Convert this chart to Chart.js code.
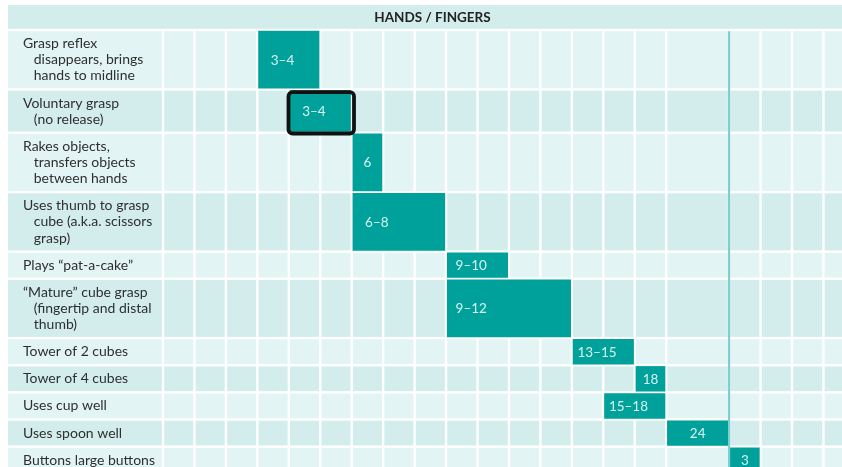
<!DOCTYPE html>
<html>
<head>
<meta charset="utf-8">
<script src="https://cdn.jsdelivr.net/npm/chart.js@4.4.1/dist/chart.umd.min.js"></script>
<style>
  html, body { margin: 0; padding: 0; background: #ffffff; }
  canvas { display: block; }
</style>
</head>
<body>
<canvas id="c" width="842" height="467"></canvas>
<script>
// ---------------- data ----------------
const sectionTitle = 'HANDS / FINGERS';

const NB = '\u00a0\u00a0\u00a0';
const milestones = [
  ['Grasp reflex', NB + 'disappears, brings', NB + 'hands to midline'],
  ['Voluntary grasp', NB + '(no release)'],
  ['Rakes objects,', NB + 'transfers objects', NB + 'between hands'],
  ['Uses thumb to grasp', NB + 'cube (a.k.a. scissors', NB + 'grasp)'],
  ['Plays \u201cpat-a-cake\u201d'],
  ['\u201cMature\u201d cube grasp', NB + '(fingertip and distal', NB + 'thumb)'],
  ['Tower of 2 cubes'],
  ['Tower of 4 cubes'],
  ['Uses cup well'],
  ['Uses spoon well'],
  ['Buttons large buttons']
];

// age text shown inside each bar
const ageLabels = ['3\u20134', '3\u20134', '6', '6\u20138', '9\u201310', '9\u201312', '13\u201315', '18', '15\u201318', '24', '3'];

// timeline columns: months 0..12 (one column each), 13–14, 15, 16–18, 19–24 (double), then years 3, 4, 5, 6
const columnEdges = [0, 1, 2, 3, 4, 5, 6, 7, 8, 9, 10, 11, 12, 13, 14, 15, 16, 18, 19, 20, 21, 22];
// start / end column of each bar (as drawn)
const startCol = [3, 4, 6, 6, 9, 9, 13, 15, 14, 16, 18];
const endCol   = [5, 6, 7, 9, 11, 13, 15, 16, 16, 18, 19];

const twoYearMark = 18;     // column edge where years begin
const highlightedRow = 1;   // "Voluntary grasp"

// ---------------- layout helpers ----------------
const ROW_EXTRA = 0.68;     // row padding, in text-line units
const rowTop = [], rowBottom = [], rowCenter = [];
{
  let acc = 0;
  milestones.forEach(lines => {
    const h = lines.length + ROW_EXTRA;
    rowTop.push(acc);
    rowBottom.push(acc + h);
    rowCenter.push(acc + h / 2);
    acc += h;
  });
}

const COLORS = {
  light: '#e2f4f4',
  dark: '#d3eded',
  header: '#d3eded',
  bar: '#00a19b',
  barText: '#d8f3f0',
  mark: '#7dcfd0',
  label: '#2f2f2f',
  title: '#222222',
  highlight: '#111111'
};
const GAP = 2.4;

const gridPlugin = {
  id: 'gridPlugin',
  beforeDraw(chart) {
    const { ctx, scales: { x, y } } = chart;
    const labelLeft = 8;
    const tb = chart.titleBlock;
    ctx.save();
    ctx.fillStyle = COLORS.header;
    ctx.fillRect(labelLeft, tb.top + 1, chart.width - labelLeft, tb.bottom - tb.top - 1 - GAP / 2);
    milestones.forEach((_, i) => {
      const top = y.getPixelForValue(rowTop[i]) + GAP / 2;
      const bot = y.getPixelForValue(rowBottom[i]) - GAP / 2;
      ctx.fillStyle = i % 2 ? COLORS.dark : COLORS.light;
      const x0 = x.getPixelForValue(columnEdges[0]);
      ctx.fillRect(labelLeft, top, x0 - GAP / 2 - labelLeft, bot - top);
      for (let k = 0; k < columnEdges.length - 1; k++) {
        const l = x.getPixelForValue(columnEdges[k]) + GAP / 2;
        const r = x.getPixelForValue(columnEdges[k + 1]) - GAP / 2;
        ctx.fillRect(l, top, r - l, bot - top);
      }
    });
    ctx.restore();
  },
  afterDatasetsUpdate(chart) {
    const y = chart.scales.y;
    const meta = chart.getDatasetMeta(0);
    meta.data.forEach((el, i) => {
      const top = y.getPixelForValue(rowTop[i]) + GAP / 2;
      const bot = y.getPixelForValue(rowBottom[i]) - GAP / 2;
      el.y = (top + bot) / 2;
      el.height = bot - top;
      el.base = el.base + GAP / 2;
      el.x = el.x - GAP / 2;
    });
  },
  afterDatasetsDraw(chart) {
    const { ctx, chartArea: a, scales: { x, y } } = chart;
    ctx.save();
    // two-year marker line
    const mx = x.getPixelForValue(twoYearMark);
    ctx.strokeStyle = COLORS.mark;
    ctx.lineWidth = 2.2;
    ctx.beginPath();
    ctx.moveTo(mx, a.top + GAP / 2);
    ctx.lineTo(mx, chart.height);
    ctx.stroke();

    // bar labels
    const meta = chart.getDatasetMeta(0);
    ctx.font = '13.5px Lato';
    ctx.fillStyle = COLORS.barText;
    ctx.textAlign = 'center';
    ctx.textBaseline = 'middle';
    meta.data.forEach((el, i) => {
      const txt = ageLabels[i];
      let cx;
      if (txt.indexOf('\u2013') >= 0) cx = x.getPixelForValue(startCol[i] + 0.8);
      else cx = x.getPixelForValue((startCol[i] + endCol[i]) / 2);
      ctx.fillText(txt, cx, el.y + 0.5);
    });

    // highlight frame
    const h = meta.data[highlightedRow];
    const l = Math.min(h.x, h.base) - 1.5, r = Math.max(h.x, h.base) + 3.5;
    const t = h.y - h.height / 2 + 1.5, b = h.y + h.height / 2 + 2;
    ctx.strokeStyle = COLORS.highlight;
    ctx.lineWidth = 3.8;
    ctx.beginPath();
    ctx.roundRect(l, t, r - l, b - t, 4);
    ctx.stroke();
    ctx.restore();
  }
};

new Chart(document.getElementById('c'), {
  type: 'bar',
  data: {
    labels: milestones,
    datasets: [{
      data: startCol.map((s, i) => ({ x: [s, endCol[i]], y: rowCenter[i] })),
      backgroundColor: COLORS.bar,
      borderWidth: 0,
      barPercentage: 1,
      categoryPercentage: 1
    }]
  },
  options: {
    indexAxis: 'y',
    responsive: false,
    animation: false,
    events: [],
    devicePixelRatio: 1,
    layout: { padding: { top: 4, left: 23, right: 0, bottom: 0 } },
    plugins: {
      legend: { display: false },
      tooltip: { enabled: false },
      title: {
        display: true,
        text: sectionTitle,
        color: COLORS.title,
        font: { family: 'Lato', size: 13.5, weight: 'bold', lineHeight: 14.4 / 13.5 },
        padding: { top: 6, bottom: 5.6 }
      }
    },
    scales: {
      x: {
        type: 'linear',
        display: false,
        offset: false,
        min: 0,
        max: 21.59
      },
      y: {
        type: 'linear',
        position: 'left',
        reverse: true,
        offset: false,
        min: 0,
        max: 27.06,
        grid: { display: false, offset: false },
        border: { display: false },
        afterBuildTicks: scale => { scale.ticks = rowCenter.map(v => ({ value: v })); },
        afterFit: scale => {
          scale.width = 140;
          scale.paddingTop = 0;
          scale.paddingBottom = 0;
        },
        ticks: {
          autoSkip: false,
          padding: 0,
          crossAlign: 'far',
          color: COLORS.label,
          font: { family: 'Lato', size: 14, lineHeight: 16.15 / 14 },
          callback: (v, i) => milestones[i]
        }
      }
    }
  },
  plugins: [gridPlugin]
});
</script>
</body>
</html>
